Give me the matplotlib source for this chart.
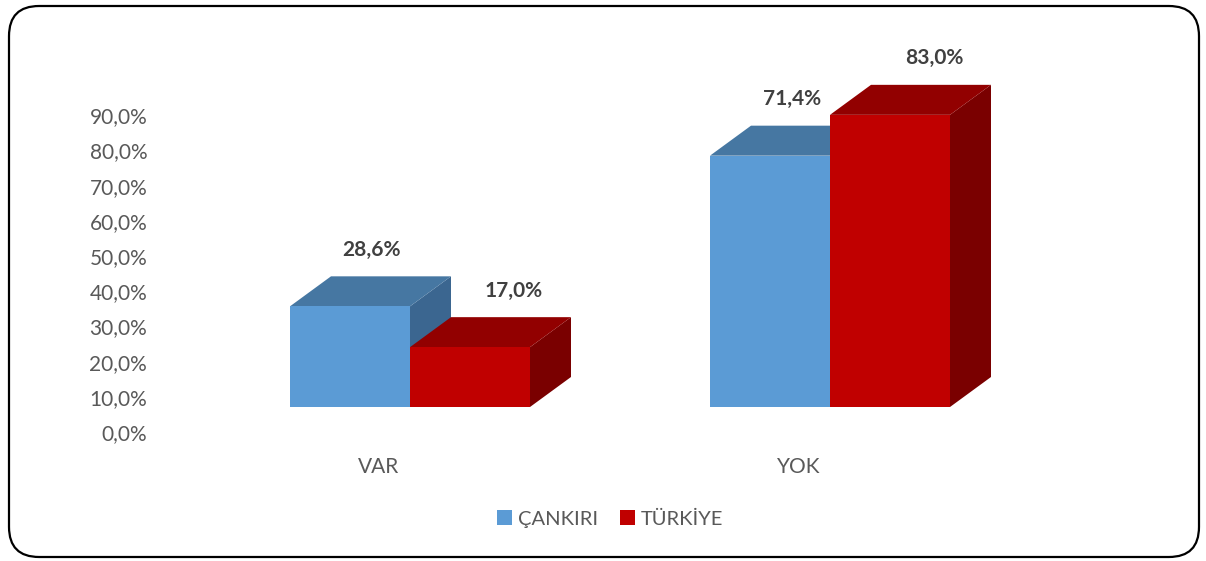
import numpy as np
import matplotlib
matplotlib.use("Agg")
import matplotlib.pyplot as plt
from matplotlib.patches import Polygon, FancyBboxPatch, Patch

plt.rcParams['font.family'] = ['Lato', 'DejaVu Sans']

categories = ["VAR", "YOK"]
series = ["ÇANKIRI", "TÜRKİYE"]
cankiri = [28.6, 71.4]
turkiye = [17.0, 83.0]
value_labels = [["28,6%", "71,4%"], ["17,0%", "83,0%"]]
yticks = [0, 10, 20, 30, 40, 50, 60, 70, 80, 90]
ytick_labels = ["0,0%", "10,0%", "20,0%", "30,0%", "40,0%",
                "50,0%", "60,0%", "70,0%", "80,0%", "90,0%"]

front = ["#5B9BD5", "#C00000"]
top_c = ["#4677A2", "#920000"]
side_c = ["#3B6690", "#7A0000"]

W, H = 1206, 561
fig = plt.figure(figsize=(W / 100, H / 100), dpi=100)

# rounded frame
frame = FancyBboxPatch((9 / W, 4 / H), 1190 / W, 551 / H,
                       boxstyle="round,pad=0,rounding_size=0.025",
                       transform=fig.transFigure, fill=False,
                       edgecolor="black", linewidth=1.6, mutation_aspect=W / H)
fig.patches.append(frame)

# axes placement (pixels from top-left)
px_l, px_r, px_t, px_b = 150, 1100, 60, 450
ax = fig.add_axes([px_l / W, 1 - px_b / H, (px_r - px_l) / W, (px_b - px_t) / H])
ppu_x = 420.0          # pixels per category
ppu_y = 3.52           # pixels per percent
ax.set_xlim((px_l - 410) / ppu_x, (px_r - 410) / ppu_x)
ax.set_ylim((432 - px_b) / ppu_y, (432 - px_t) / ppu_y)

base = 25 / ppu_y      # floor of the 3d box sits above the 0 label
dx = 41 / ppu_x
dy = 30 / ppu_y
w = 120 / ppu_x

x = np.arange(len(categories))
vals = [cankiri, turkiye]
for i in range(len(categories)):
    for s in range(2):
        x0 = x[i] - w + s * w
        t = base + vals[s][i]
        side = Polygon([(x0 + w, base), (x0 + w + dx, base + dy),
                        (x0 + w + dx, t + dy), (x0 + w, t)],
                       closed=True, facecolor=side_c[s], edgecolor="none")
        top = Polygon([(x0, t), (x0 + w, t), (x0 + w + dx, t + dy), (x0 + dx, t + dy)],
                      closed=True, facecolor=top_c[s], edgecolor="none")
        ax.add_patch(side)
        ax.add_patch(top)
        ax.bar(x0, vals[s][i], width=w, bottom=base, align="edge",
               color=front[s], edgecolor="none")
        ax.annotate(value_labels[s][i], (x0 + w / 2 + dx / 2, t + dy),
                    xytext=(1 if s == 0 else 17, 19), textcoords="offset points",
                    ha="center", va="center", fontsize=15, fontweight="bold",
                    color="#404040")

ax.set_yticks(yticks)
ax.set_yticklabels(ytick_labels)
ax.set_xticks(x - 0.075)
ax.set_xticklabels(categories)
ax.tick_params(axis="y", length=0, pad=2, labelsize=15, labelcolor="#595959")
ax.tick_params(axis="x", length=0, pad=5, labelsize=15, labelcolor="#595959")
for sp in ax.spines.values():
    sp.set_visible(False)
ax.patch.set_visible(False)

handles = [Patch(facecolor=front[0]), Patch(facecolor=front[1])]
fig.legend(handles, series, loc="center", bbox_to_anchor=(610 / W, 1 - 519 / H),
           ncol=2, frameon=False, fontsize=14.5, labelcolor="#595959",
           handlelength=0.75, handleheight=0.75, handletextpad=0.3, columnspacing=1.1)

fig.savefig("out.png", dpi=100)
